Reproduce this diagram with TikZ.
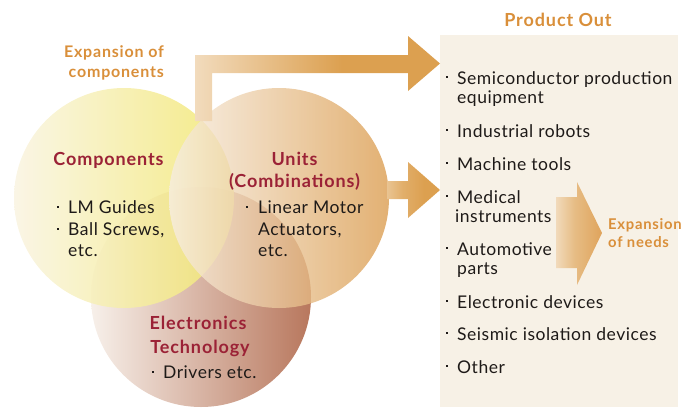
\documentclass[tikz,border=0pt]{standalone}
\usepackage{fontspec}
\setmainfont{Lato}[LetterSpace=3]
\newfontfamily\headfont{Lato}[LetterSpace=5]
\usetikzlibrary{calc}
\definecolor{txt}{HTML}{1E1A18}
\definecolor{headred}{HTML}{9B2236}
\definecolor{headorange}{HTML}{D98F3A}
\definecolor{arrowor}{HTML}{DCA050}
\definecolor{boxfill}{HTML}{F7F1E6}
\definecolor{compL}{HTML}{F9F4E2}
\definecolor{compR}{HTML}{F3E873}
\definecolor{unitL}{HTML}{F7EEE2}
\definecolor{unitR}{HTML}{DB9D50}
\definecolor{elecL}{HTML}{F7F0EA}
\definecolor{elecR}{HTML}{B8775D}
\pgfdeclarehorizontalshading{topbar}{100bp}{color(0bp)=(white); color(8bp)=(white!97!arrowor); color(43bp)=(arrowor!75!white); color(55bp)=(arrowor); color(100bp)=(arrowor)}
\pgfdeclarehorizontalshading{midbar}{100bp}{color(0bp)=(arrowor!25!white); color(40bp)=(arrowor!85!white); color(60bp)=(arrowor); color(100bp)=(arrowor)}
\pgfdeclarehorizontalshading{needbar}{100bp}{color(0bp)=(white); color(45bp)=(arrowor!70!white); color(100bp)=(headorange)}
\tikzset{
  item/.style={anchor=base west, inner sep=0pt, text=txt, font=\fontsize{17.5}{19}\selectfont},
  head/.style={anchor=base, inner sep=0pt, text=headred, font=\headfont\bfseries\fontsize{18}{21}\selectfont},
  note/.style={inner sep=0pt, text=headorange, font=\headfont\bfseries\fontsize{16}{20}\selectfont},
  small note/.style={note, anchor=base west, font=\headfont\bfseries\fontsize{14.8}{18}\selectfont},
  bul/.style={rectangle, fill=txt, inner sep=0pt, minimum size=2.5pt},
}
\begin{document}
\begin{tikzpicture}[x=1pt,y=-1pt]
\useasboundingbox (0,0) rectangle (684,407);
% product box
\fill[boxfill] (440,35) rectangle (678,407);
% circles of the three fields
\shade[left color=elecL, right color=elecR] (201,297) circle[radius=110pt];
\shade[left color=compL, right color=compR, fill opacity=0.88] (124,198) circle[radius=110pt];
\shade[left color=unitL, right color=unitR, fill opacity=0.8] (279,198) circle[radius=110pt];
% expansion arrows
\shade[shading=topbar] (195,55) -- (408,55) -- (408,36) -- (440,63.5) -- (408,91) -- (408,73) -- (212,73) -- (212,121) -- (195,121) -- cycle;
\shade[shading=midbar] (387,181) -- (408,181) -- (408,162) -- (440,190) -- (408,218) -- (408,199) -- (387,199) -- cycle;
\shade[shading=needbar] (556,197) -- (577,197) -- (577,182) -- (602,233) -- (577,285) -- (577,268) -- (556,268) -- cycle;
% headings
\node[note, anchor=base, font=\headfont\bfseries\fontsize{18}{20}\selectfont] (prod) at (558,26) {Product Out};
\node[note, anchor=base east] (exc1) at (164,57) {Expansion of};
\node[note, anchor=base east] (exc2) at (164,77) {components};
\node[small note] (exn1) at (608,229) {Expansion};
\node[small note] (exn2) at (608,247) {of needs};
\node[head] (comp) at (108.5,165) {Components};
\node[head] (unit1) at (294.5,165) {Units};
\node[head] (unit2) at (294.5,187) {(Combinations)};
\node[head] (elec1) at (198,329) {Electronics};
\node[head] (elec2) at (200,353) {Technology};
% circle contents
\node[bul] (cb1) at (58,207) {};
\node[item] (c1) at (68,213) {LM Guides};
\node[bul] (cb2) at (58,229) {};
\node[item] (c2) at (68,235) {Ball Screws,};
\node[item] (c3) at (68,256) {etc.};
\node[bul] (ub1) at (247,207) {};
\node[item] (u1) at (258,213) {Linear Motor};
\node[item] (u2) at (258,235) {Actuators,};
\node[item] (u3) at (258,256) {etc.};
\node[bul] (eb1) at (153,372) {};
\node[item] (e1) at (163,378) {Drivers etc.};
% product list
\foreach \n/\y in {1/77,2/130,3/163,4/196,5/248,6/301,7/333,8/366}
  \node[bul] (pb\n) at (447,\y) {};
\node[item] (p1a) at (457,84) {Semiconductor production};
\node[item] (p1b) at (457,103) {equipment};
\node[item] (p2) at (457,137) {Industrial robots};
\node[item] (p3) at (457,170) {Machine tools};
\node[item] (p4a) at (457,203) {Medical};
\node[item] (p4b) at (455,222) {instruments};
\node[item] (p5a) at (457,255) {Automotive};
\node[item] (p5b) at (457,274) {parts};
\node[item] (p6) at (457,308) {Electronic devices};
\node[item] (p7) at (457,340) {Seismic isolation devices};
\node[item] (p8) at (457,373) {Other};
\end{tikzpicture}
\end{document}
